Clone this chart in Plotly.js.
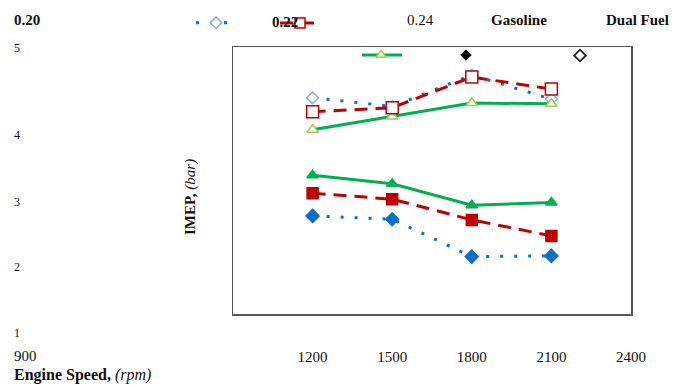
<!DOCTYPE html>
<html>
<head>
<meta charset="utf-8">
<script src="https://cdn.plot.ly/plotly-3.0.1.min.js"></script>
<style>html,body{margin:0;padding:0;background:#fff;}#chart{width:675px;height:385px;}</style>
</head>
<body>
<div id="chart"></div>
<script>
// Engine speed (rpm)
const speeds = [1200, 1500, 1800, 2100];
// IMEP (bar) – Dual Fuel (hollow markers)
const df020 = [4.24, 4.11, 4.58, 4.22];
const df022 = [4.03, 4.09, 4.55, 4.37];
const df024 = [3.76, 3.96, 4.16, 4.15];
// IMEP (bar) – Gasoline (filled markers)
const gas020 = [2.47, 2.42, 1.86, 1.87];
const gas022 = [2.81, 2.72, 2.41, 2.17];
const gas024 = [3.08, 2.95, 2.63, 2.67];
// Axis tick labels
const xTicks = [1200, 1500, 1800, 2100, 2400];
const xTickText = ['1200', '1500', '1800', '2100', '2400'];
const yTickText = ['5', '4', '3', '2', '1'];
const legendNames = ['0.20', '0.22', '0.24', 'Gasoline', 'Dual Fuel'];

const W = 675, H = 385;
const BLUE = '#0a6fc9', BLUE_L = '#8eaee0';
const RED = '#c00000';
const GREEN = '#00b050', GREEN_L = '#92d050';
const FONT = 'Liberation Serif';

function series(y, color, dash, symbol, mcolor, mline, msize) {
  return {
    x: speeds, y: y, type: 'scatter', mode: 'lines+markers', showlegend: false,
    line: {color: color, width: 3, dash: dash},
    marker: {symbol: symbol, size: msize, color: mcolor, line: {color: mline, width: 1.5}},
    cliponaxis: false, hoverinfo: 'skip'
  };
}
const BDOT = '3px,11px', RDASH = '13px,8px';
const traces = [
  series(df020, BLUE, BDOT, 'diamond', '#ffffff', BLUE_L, 9),
  series(df024, GREEN, 'solid', 'triangle-up', '#ffffff', GREEN_L, 10),
  series(df022, RED, RDASH, 'square', '#ffffff', RED, 12),
  series(gas020, BLUE, BDOT, 'diamond', BLUE, BLUE, 10),
  series(gas022, RED, RDASH, 'square', RED, RED, 11),
  series(gas024, GREEN, 'solid', 'triangle-up', GREEN, GREEN, 10)
];

// legend keys drawn on a full-page axis measured in pixels
function key(xs, y, mx, color, dash, symbol, mcolor, mline, msize) {
  return [
    {x: xs, y: [y, y], xaxis: 'x2', yaxis: 'y2', type: 'scatter', mode: 'lines', showlegend: false,
     line: {color: color, width: 3, dash: dash}, cliponaxis: false, hoverinfo: 'skip'},
    {x: [mx], y: [y], xaxis: 'x2', yaxis: 'y2', type: 'scatter', mode: 'markers', showlegend: false,
     marker: {symbol: symbol, size: msize, color: mcolor, line: {color: mline, width: 1.5}},
     cliponaxis: false, hoverinfo: 'skip'}
  ];
}

function ann(text, x, y, opts) {
  return Object.assign({text: text, x: x, y: y, xref: 'x2', yref: 'y2', showarrow: false,
    xanchor: 'left', yanchor: 'middle', font: {family: FONT, size: 15, color: '#111'}}, opts || {});
}
const yTickPix = [48, 135, 201.5, 266.5, 333];
const annotations = [
  ann('<b>' + legendNames[0] + '</b>', 12, 20),
  ann('<b>' + legendNames[1] + '</b>', 270, 22),
  ann(legendNames[2], 405, 20),
  ann('<b>' + legendNames[3] + '</b>', 489, 20),
  ann('<b>' + legendNames[4] + '</b>', 604, 20),
  ann('900', 12, 356),
  ann('<b>Engine Speed,</b> <i>(rpm)</i>', 12, 375, {font: {family: FONT, size: 16, color: '#111'}}),
  ann('<b>IMEP,</b> <i>(bar)</i>', 190.5, 197.5, {xanchor: 'center', textangle: -90})
];
yTickText.forEach((t, i) => annotations.push(ann(t, 12, yTickPix[i], {font: {family: FONT, size: 12, color: '#111'}})));

// keys on top of the "0.22" label as in the original
traces.push(...key([196, 229], 22.7, 216, BLUE, BDOT, 'diamond', '#ffffff', BLUE_L, 9));
traces.push(...key([362, 402], 55, 381, GREEN, 'solid', 'triangle-up', '#ffffff', GREEN_L, 9));
traces.push({x: [466], y: [55], xaxis: 'x2', yaxis: 'y2', type: 'scatter', mode: 'markers', showlegend: false,
  marker: {symbol: 'diamond', size: 8, color: '#000', line: {color: '#000', width: 1}}, cliponaxis: false, hoverinfo: 'skip'});
traces.push({x: [580], y: [55.5], xaxis: 'x2', yaxis: 'y2', type: 'scatter', mode: 'markers', showlegend: false,
  marker: {symbol: 'diamond', size: 9, color: '#fff', line: {color: '#222', width: 1.8}}, cliponaxis: false, hoverinfo: 'skip'});

const layout = {
  width: W, height: H,
  margin: {l: 0, r: 0, t: 0, b: 0, pad: 0},
  paper_bgcolor: '#ffffff', plot_bgcolor: 'rgba(0,0,0,0)',
  font: {family: FONT, color: '#111'},
  showlegend: false,
  xaxis: {domain: [233 / W, 631 / W], range: [900, 2400], tickvals: xTicks, ticktext: xTickText, ticks: '',
    showgrid: false, zeroline: false, showline: true, mirror: true, linecolor: '#555', linewidth: 1.5,
    tickfont: {family: FONT, size: 15, color: '#111'}, ticklabelstandoff: 28},
  yaxis: {domain: [(H - 314) / H, (H - 47) / H], range: [1, 5], showticklabels: false, ticks: '',
    showgrid: false, zeroline: false, showline: true, mirror: true, linecolor: '#555', linewidth: 1.5},
  xaxis2: {domain: [0, 1], anchor: 'y2', range: [0, W], visible: false, showgrid: false, zeroline: false},
  yaxis2: {domain: [0, 1], anchor: 'x2', range: [H, 0], visible: false, showgrid: false, zeroline: false},
  annotations: annotations,
  shapes: [
    {type: 'line', xref: 'x2', yref: 'y2', x0: 280, x1: 317, y0: 23, y1: 23, layer: 'above',
     line: {color: RED, width: 3, dash: RDASH}},
    {type: 'rect', xref: 'x2', yref: 'y2', x0: 295, x1: 305, y0: 18, y1: 28, layer: 'above',
     fillcolor: '#ffffff', line: {color: RED, width: 1.5}}
  ]
};
Plotly.newPlot('chart', traces, layout, {displayModeBar: false, staticPlot: true});
</script>
</body>
</html>
